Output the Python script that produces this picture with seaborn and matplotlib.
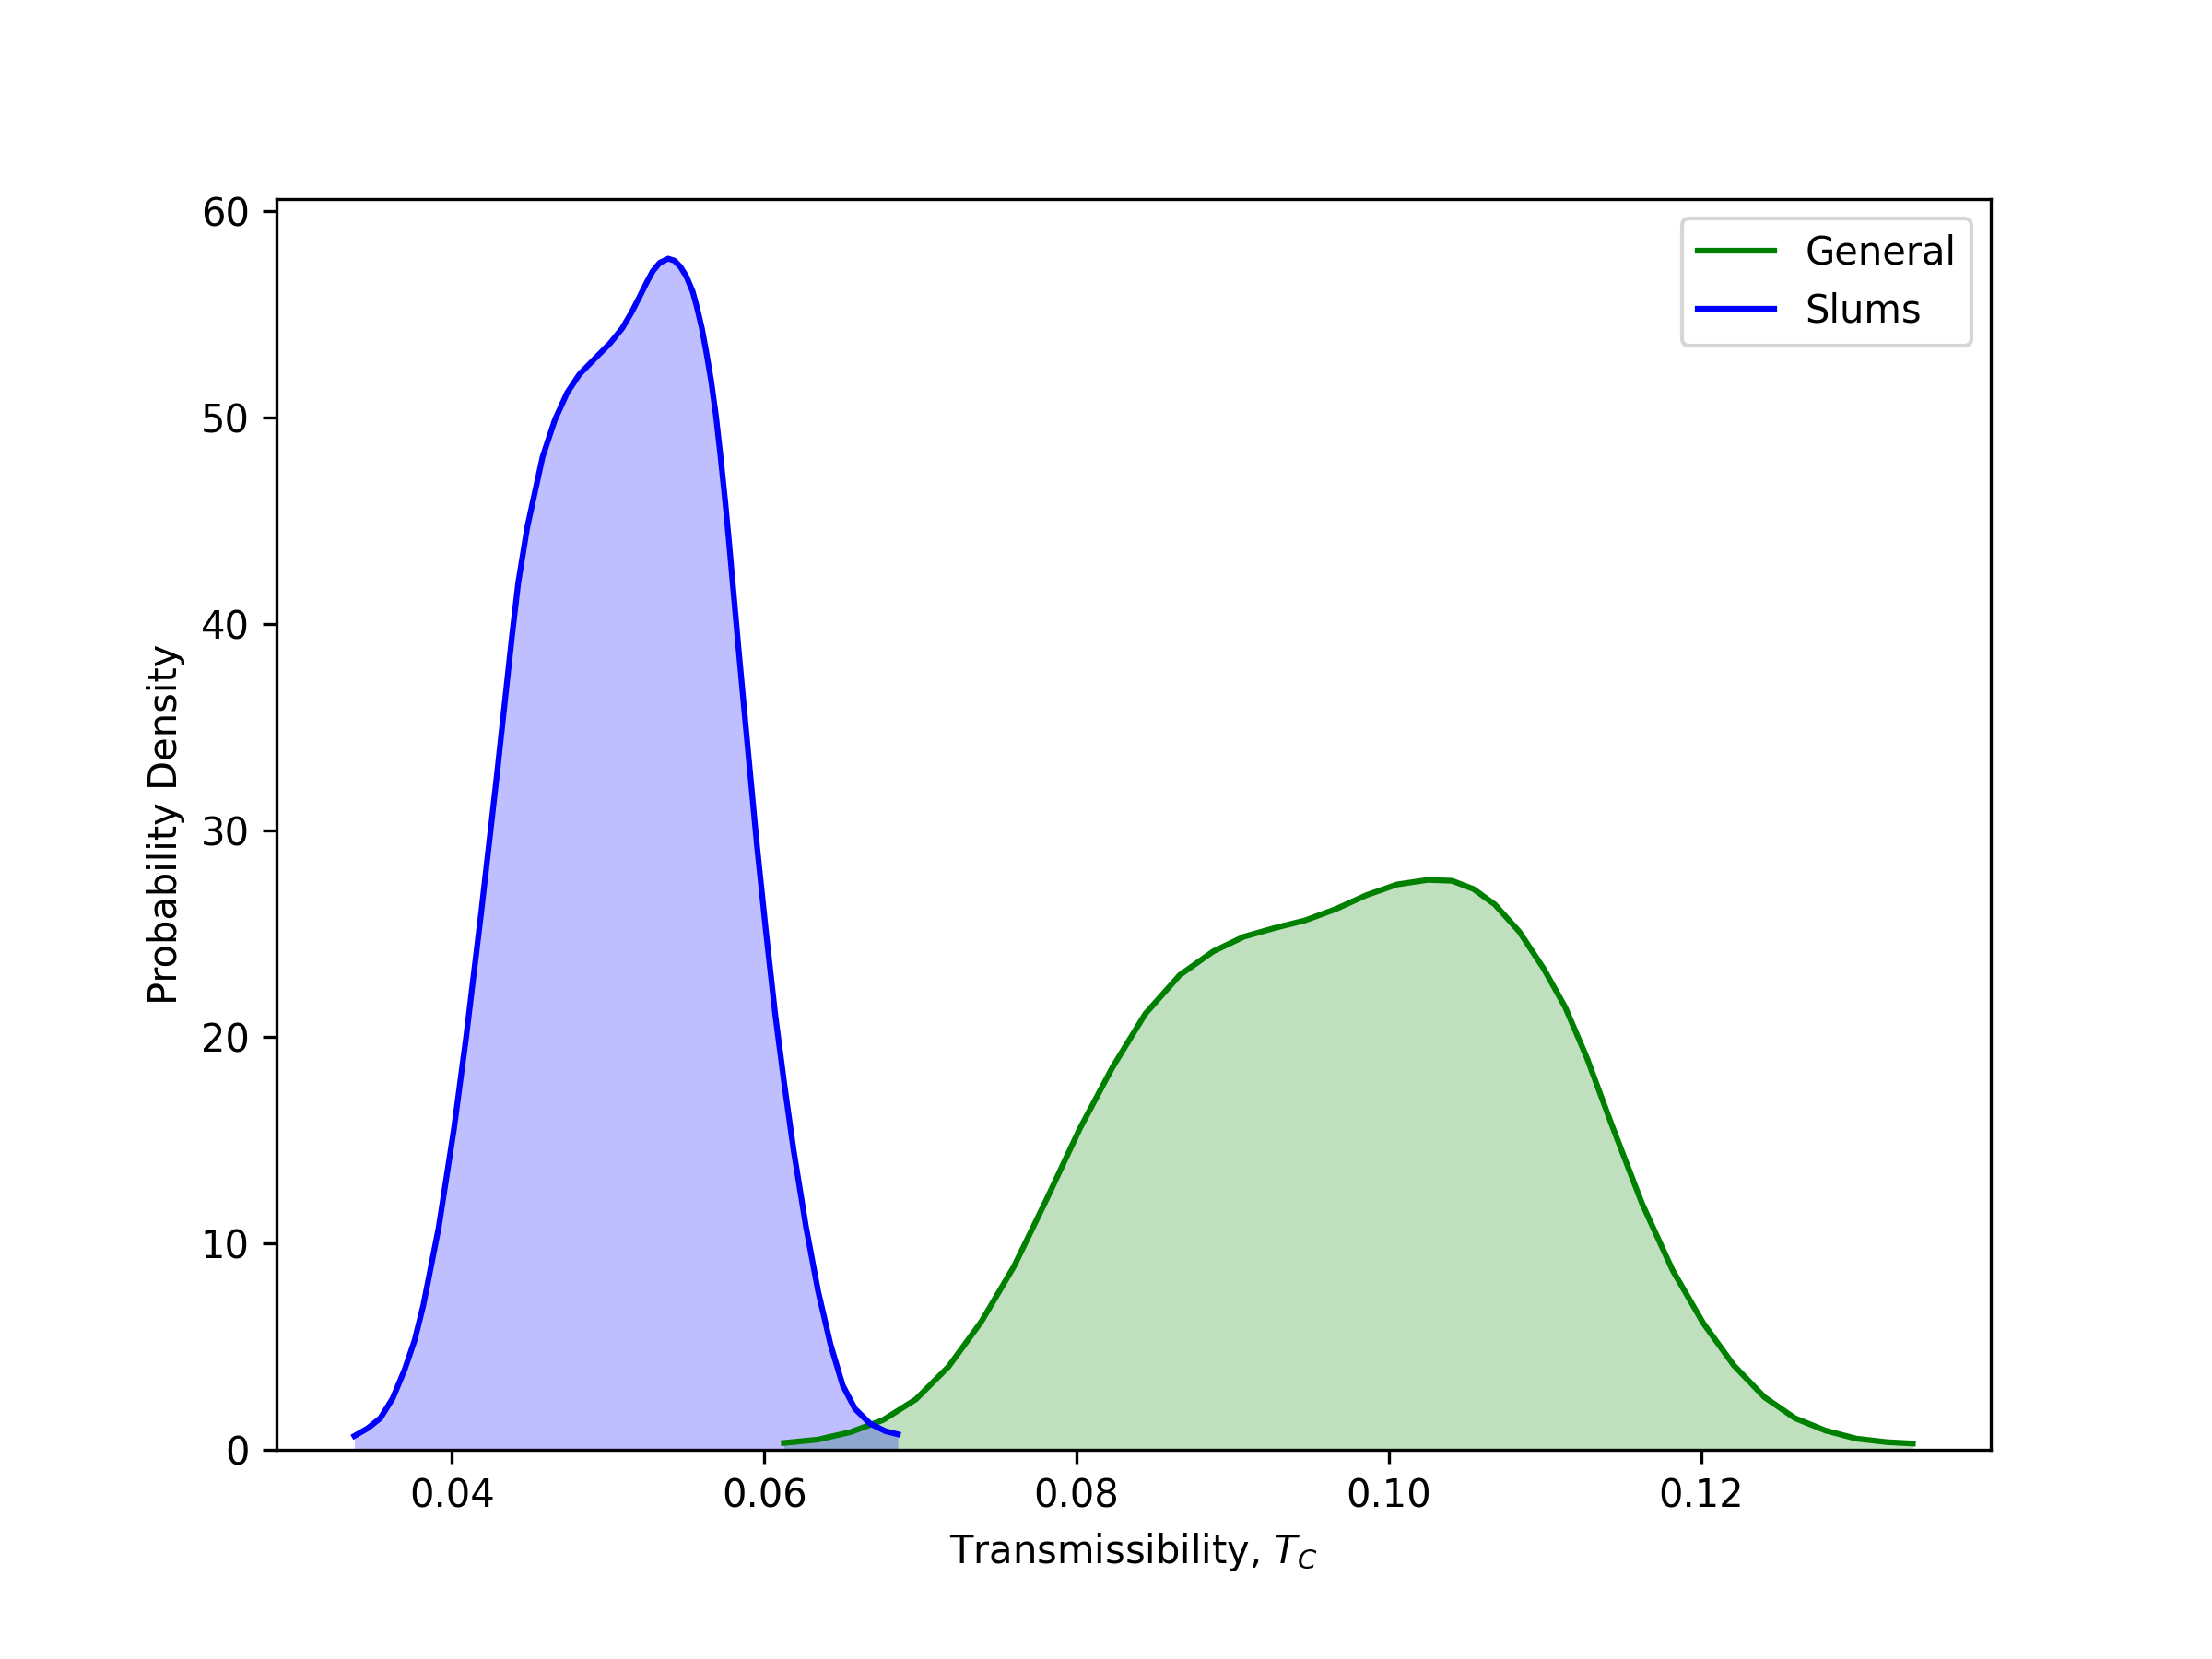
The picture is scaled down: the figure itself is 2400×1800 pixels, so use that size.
import matplotlib
matplotlib.use("Agg")
import matplotlib.pyplot as plt
import seaborn as sns
import pandas as pd

# Slums density curve
slums_x = [0.03375, 0.03460, 0.03541, 0.03620, 0.03698, 0.03760, 0.03816, 0.03914,
           0.04012, 0.04090, 0.04188, 0.04286, 0.04384, 0.04424, 0.04482, 0.04580,
           0.04659, 0.04737, 0.04816, 0.04933, 0.05012, 0.05090, 0.05150, 0.05208,
           0.05250, 0.05286, 0.05330, 0.05384, 0.05425, 0.05463, 0.05500, 0.05541,
           0.05570, 0.05600, 0.05630, 0.05659, 0.05690, 0.05718, 0.05750, 0.05776,
           0.05835, 0.05894, 0.05953, 0.06012, 0.06071, 0.06130, 0.06188, 0.06267,
           0.06345, 0.06424, 0.06502, 0.06581, 0.06678, 0.06776, 0.06855]
slums_y = [0.68, 1.05, 1.54, 2.5, 3.92, 5.3, 7.0, 10.75,
           15.53, 19.97, 26.11, 32.6, 39.42, 42.0, 44.7, 48.1,
           49.9, 51.2, 52.1, 53.0, 53.6, 54.33, 55.1, 55.96,
           56.6, 57.1, 57.5, 57.7, 57.6, 57.3, 56.85, 56.11,
           55.3, 54.33, 53.1, 51.8, 50.1, 48.23, 45.9, 43.8,
           38.8, 34.0, 29.26, 25.0, 21.02, 17.61, 14.49, 10.8,
           7.67, 5.11, 3.13, 1.99, 1.27, 0.91, 0.76]

# General density curve
general_x = [0.06125, 0.0634, 0.0655, 0.0676, 0.0697, 0.0718, 0.0739, 0.0760,
             0.0781, 0.0802, 0.0823, 0.0844, 0.0866, 0.08875, 0.09071, 0.09267,
             0.09463, 0.0966, 0.09855, 0.10051, 0.10247, 0.10404, 0.10541, 0.10678,
             0.10835, 0.10992, 0.11129, 0.11267, 0.11424, 0.1162, 0.11816, 0.12012,
             0.12208, 0.12404, 0.126, 0.12796, 0.12992, 0.13188, 0.13355]
general_y = [0.34, 0.5, 0.86, 1.45, 2.45, 4.04, 6.22, 8.91,
             12.18, 15.56, 18.54, 21.13, 23.0, 24.15, 24.86, 25.28,
             25.65, 26.2, 26.87, 27.39, 27.61, 27.57, 27.17, 26.42,
             25.1, 23.3, 21.44, 19.0, 15.8, 11.95, 8.71, 6.15,
             4.1, 2.56, 1.54, 0.94, 0.55, 0.38, 0.31]

labels = ["General", "Slums"]
colors = ["green", "blue"]

fig = plt.figure(figsize=(8, 6), dpi=300)
ax = fig.add_subplot(111)
fig.subplots_adjust(left=0.125, right=0.9, top=0.88, bottom=0.126)

for xs, ys, lab, col in [(general_x, general_y, labels[0], colors[0]),
                         (slums_x, slums_y, labels[1], colors[1])]:
    df = pd.DataFrame({"x": xs, "y": ys})
    sns.lineplot(data=df, x="x", y="y", color=col, label=lab, ax=ax,
                 estimator=None, sort=False, linewidth=1.5)
    ax.fill_between(df["x"], 0, df["y"], color=col, alpha=0.25, linewidth=0)

ax.set_ylim(bottom=0)
ax.set_xlabel("Transmissibility, $T_C$")
ax.set_ylabel("Probability Density")
ax.legend(loc="upper right")

fig.savefig("out.png", dpi=300)
